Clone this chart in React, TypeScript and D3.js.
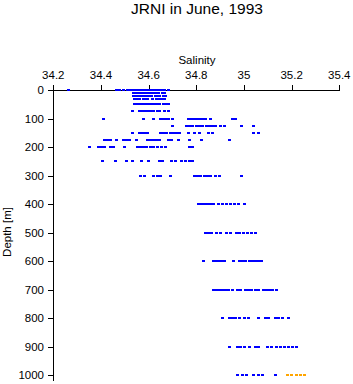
import * as d3 from 'd3';

// sample depths (m) and the salinities measured at each
const depths = [0, 10, 20, 30, 50, 75, 100, 125, 150, 175, 200, 250, 300, 400, 500, 600, 700, 800, 900, 1000];

const salinityRows = [
  [34.262, 34.463, 34.476, 34.492, 34.509, 34.522, 34.534, 34.545, 34.555, 34.565, 34.575, 34.585, 34.595, 34.605, 34.615, 34.625, 34.635, 34.645, 34.655, 34.665, 34.68],
  [34.535, 34.545, 34.555, 34.565, 34.575, 34.585, 34.595, 34.605, 34.62, 34.63, 34.64, 34.655, 34.665],
  [34.535, 34.545, 34.555, 34.57, 34.58, 34.59, 34.6, 34.61, 34.625, 34.635, 34.645, 34.66, 34.668],
  [34.54, 34.55, 34.56, 34.575, 34.585, 34.595, 34.615, 34.63, 34.64, 34.65, 34.665],
  [34.54, 34.55, 34.56, 34.57, 34.58, 34.59, 34.6, 34.61, 34.62, 34.63, 34.64, 34.645, 34.66, 34.67, 34.68],
  [34.53, 34.56, 34.57, 34.58, 34.59, 34.6, 34.61, 34.62, 34.635, 34.645, 34.665, 34.68],
  [34.409, 34.577, 34.618, 34.648, 34.66, 34.673, 34.681, 34.698, 34.765, 34.778, 34.79, 34.803, 34.816, 34.828, 34.836, 34.857, 34.95, 34.962],
  [34.7, 34.757, 34.77, 34.782, 34.799, 34.811, 34.824, 34.841, 34.853, 34.866, 34.878, 34.899, 34.916, 34.988, 35.038],
  [34.53, 34.56, 34.568, 34.58, 34.593, 34.648, 34.66, 34.673, 34.69, 34.702, 34.715, 34.727, 34.765, 34.79, 34.811, 34.849, 34.866, 35.038, 35.059],
  [34.413, 34.425, 34.438, 34.463, 34.492, 34.505, 34.518, 34.547, 34.593, 34.606, 34.618, 34.631, 34.644, 34.681, 34.694, 34.723, 34.77, 34.82, 34.937],
  [34.35, 34.388, 34.4, 34.413, 34.438, 34.45, 34.497, 34.551, 34.564, 34.577, 34.589, 34.606, 34.618, 34.635, 34.652, 34.669, 34.77, 34.782],
  [34.404, 34.459, 34.505, 34.53, 34.568, 34.597, 34.644, 34.656, 34.694, 34.711, 34.736, 34.753, 34.77, 34.782],
  [34.564, 34.581, 34.618, 34.635, 34.648, 34.69, 34.79, 34.803, 34.816, 34.832, 34.845, 34.857, 34.878, 34.895, 34.988],
  [34.808, 34.82, 34.832, 34.845, 34.857, 34.87, 34.89, 34.907, 34.924, 34.941, 34.958, 34.975, 35.0],
  [34.836, 34.849, 34.862, 34.882, 34.899, 34.924, 34.941, 34.966, 34.979, 34.996, 35.012, 35.029, 35.046],
  [34.828, 34.87, 34.883, 34.895, 34.904, 34.916, 34.954, 34.979, 34.992, 35.004, 35.021, 35.034, 35.047, 35.059, 35.072],
  [34.87, 34.883, 34.895, 34.908, 34.921, 34.933, 34.95, 34.971, 34.983, 35.004, 35.017, 35.03, 35.047, 35.059, 35.08, 35.093, 35.105, 35.118, 35.134],
  [34.908, 34.937, 34.95, 34.962, 34.979, 35.0, 35.017, 35.059, 35.088, 35.101, 35.13, 35.143, 35.16, 35.185],
  [34.937, 34.971, 34.983, 35.0, 35.021, 35.047, 35.059, 35.097, 35.113, 35.134, 35.151, 35.168, 35.185, 35.202, 35.218],
  [34.971, 34.992, 35.008, 35.038, 35.059, 35.076, 35.13],
];

// the highlighted (orange) samples at 1000 m
const highlightDepth = 1000;
const highlightSalinity = [35.181, 35.197, 35.218, 35.235, 35.252];

const salTicks = [34.2, 34.4, 34.6, 34.8, 35, 35.2, 35.4];
const depthTicks = [0, 100, 200, 300, 400, 500, 600, 700, 800, 900, 1000];

const W = 353;
const H = 384;
const font = '"Liberation Sans", Arial, sans-serif';

export default function App() {
  const x = d3.scaleLinear().domain([34.2, 35.4]).range([53.3, 339.3]);
  const y = d3.scaleLinear().domain([0, 1000]).range([90, 375]);

  const points = depths.flatMap((d, i) => salinityRows[i].map(s => ({ d, s })));
  const hi = highlightSalinity.map(s => ({ d: highlightDepth, s }));

  return (
    <svg width={W} height={H} style={{ position: 'absolute', left: 0, top: 0, background: '#fff' }}
      fontFamily={font}>
      <text x={197} y={14} textAnchor="middle" fontSize={15.5}>JRNI in June, 1993</text>
      <text x={197} y={64} textAnchor="middle" fontSize={11.5}>Salinity</text>

      <g shapeRendering="crispEdges" stroke="#000">
        <line x1={x(34.2)} x2={x(35.4)} y1={90.5} y2={90.5} />
        {salTicks.map(t => (
          <line key={t} x1={Math.round(x(t)) + 0.5} x2={Math.round(x(t)) + 0.5} y1={85} y2={90.5} />
        ))}
        <line x1={53.5} x2={53.5} y1={85} y2={381} />
        {depthTicks.map(t => (
          <line key={t} x1={48} x2={53.5} y1={Math.round(y(t)) + 0.5} y2={Math.round(y(t)) + 0.5} />
        ))}
      </g>
      {salTicks.map(t => (
        <text key={t} x={x(t)} y={79} textAnchor="middle" fontSize={11.5}>{d3.format('~g')(t)}</text>
      ))}
      {depthTicks.map(t => (
        <text key={t} x={44} y={y(t) + 4} textAnchor="end" fontSize={11.5}>{t}</text>
      ))}
      <text transform={`translate(11,232) rotate(-90)`} textAnchor="middle" fontSize={11.5}>Depth [m]</text>

      <g shapeRendering="crispEdges">
        {points.map((p, i) => (
          <rect key={i} x={Math.round(x(p.s)) - 1} y={Math.round(y(p.d)) - 1} width={3} height={2} fill="#0000ff" />
        ))}
        {hi.map((p, i) => (
          <rect key={'h' + i} x={Math.round(x(p.s)) - 1} y={Math.round(y(p.d)) - 1} width={3} height={2} fill="#ffa500" />
        ))}
      </g>
    </svg>
  );
}
